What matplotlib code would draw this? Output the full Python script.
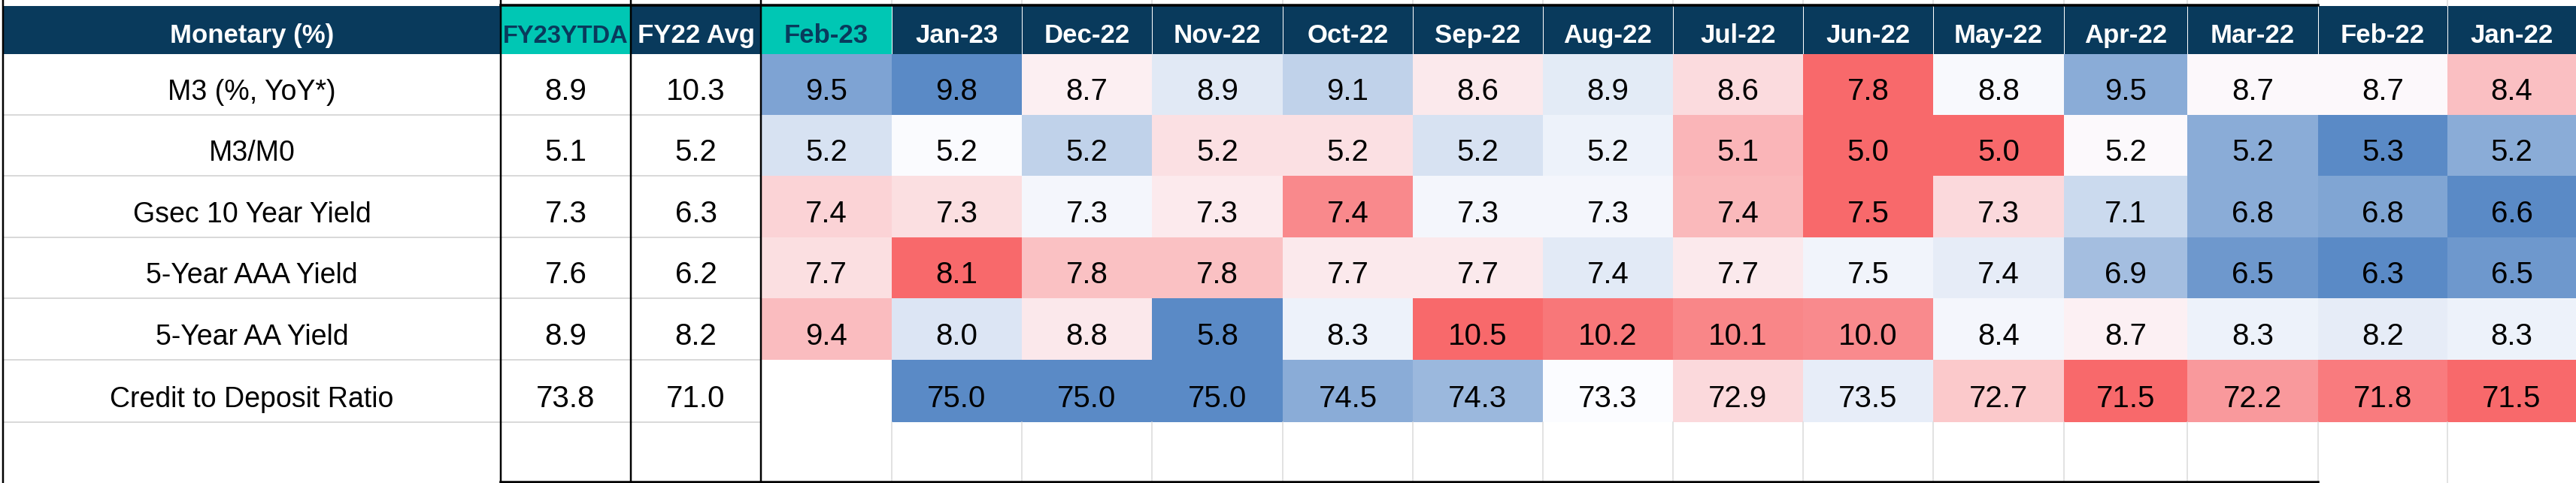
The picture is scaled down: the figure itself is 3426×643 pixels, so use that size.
import numpy as np
import matplotlib.pyplot as plt
from matplotlib.colors import LinearSegmentedColormap, Normalize

title = "Monetary (%)"
summary_heads = ["FY23YTDA", "FY22 Avg"]
months = ["Feb-23", "Jan-23", "Dec-22", "Nov-22", "Oct-22", "Sep-22", "Aug-22",
          "Jul-22", "Jun-22", "May-22", "Apr-22", "Mar-22", "Feb-22", "Jan-22"]
indicators = ["M3 (%, YoY*)", "M3/M0", "Gsec 10 Year Yield", "5-Year AAA Yield",
              "5-Year AA Yield", "Credit to Deposit Ratio"]
fy23_ytda = [8.9, 5.1, 7.3, 7.6, 8.9, 73.8]
fy22_avg = [10.3, 5.2, 6.3, 6.2, 8.2, 71.0]

m3_yoy = [9.5, 9.8, 8.7, 8.9, 9.1, 8.6, 8.9, 8.6, 7.8, 8.8, 9.5, 8.7, 8.7, 8.4]
m3_m0 = [5.2, 5.2, 5.2, 5.2, 5.2, 5.2, 5.2, 5.1, 5.0, 5.0, 5.2, 5.2, 5.3, 5.2]
gsec_10y = [7.4, 7.3, 7.3, 7.3, 7.4, 7.3, 7.3, 7.4, 7.5, 7.3, 7.1, 6.8, 6.8, 6.6]
aaa_5y = [7.7, 8.1, 7.8, 7.8, 7.7, 7.7, 7.4, 7.7, 7.5, 7.4, 6.9, 6.5, 6.3, 6.5]
aa_5y = [9.4, 8.0, 8.8, 5.8, 8.3, 10.5, 10.2, 10.1, 10.0, 8.4, 8.7, 8.3, 8.2, 8.3]
cd_ratio = [np.nan, 75.0, 75.0, 75.0, 74.5, 74.3, 73.3, 72.9, 73.5, 72.7, 71.5, 72.2, 71.8, 71.5]

# colour-scale position of each cell (-1 red ... 0 white ... +1 blue), read from the shading
m3_yoy_shade = [0.78, 1.0, -0.09, 0.17, 0.37, -0.13, 0.15, -0.22, -1.0, 0.03, 0.70, -0.03, -0.03, -0.41]
m3_m0_shade = [0.23, 0.01, 0.37, -0.19, -0.19, 0.23, 0.09, -0.48, -1.0, -1.0, -0.02, 0.70, 1.0, 0.70]
gsec_10y_shade = [-0.28, -0.20, 0.05, -0.12, -0.78, 0.05, 0.05, -0.46, -1.0, -0.24, 0.30, 0.70, 0.76, 1.0]
aaa_5y_shade = [-0.20, -1.0, -0.40, -0.40, -0.13, -0.13, 0.16, -0.13, 0.07, 0.14, 0.54, 0.87, 1.0, 0.87]
aa_5y_shade = [-0.43, 0.20, -0.14, 1.0, 0.09, -1.0, -0.90, -0.80, -0.77, 0.05, -0.08, 0.09, 0.14, 0.09]
cd_ratio_shade = [np.nan, 1.0, 1.0, 1.0, 0.70, 0.60, 0.0, -0.24, 0.13, -0.35, -1.0, -0.67, -0.87, -1.0]

values = np.array([m3_yoy, m3_m0, gsec_10y, aaa_5y, aa_5y, cd_ratio])
shades = np.array([m3_yoy_shade, m3_m0_shade, gsec_10y_shade, aaa_5y_shade,
                   aa_5y_shade, cd_ratio_shade])

# --- layout (pixels) ---
W, H = 3426, 643
col_edges = [4, 666, 839, 1012, 1186, 1359, 1532, 1706, 1879, 2052, 2225,
             2398, 2571, 2745, 2909, 3083, 3255, 3426]
row_edges = [8, 72, 153, 234, 316, 397, 479, 562, 643]

navy = "#093A5C"
teal = "#00C7B4"
grid = "#D9D9D9"
fam = ["Liberation Sans", "DejaVu Sans"]
px = 72 / 100  # points per pixel

fig = plt.figure(figsize=(W / 100, H / 100), dpi=100)
ax = fig.add_axes([0, 0, 1, 1])
ax.set_xlim(0, W)
ax.set_ylim(H, 0)
ax.axis("off")

# heat map of the monthly columns
cmap = LinearSegmentedColormap.from_list("rwb", ["#F8696B", "#FCFCFF", "#5A8AC6"])
cmap.set_bad("white")
ax.pcolormesh(col_edges[3:], row_edges[1:8], np.ma.masked_invalid(shades),
              cmap=cmap, norm=Normalize(-1, 1), zorder=1)

# header cells
heads = [title] + summary_heads + months
for j, h in enumerate(heads):
    x0, x1 = col_edges[j], col_edges[j + 1]
    is_teal = h in ("FY23YTDA", "Feb-23")
    ax.fill_between([x0 + 1, x1], row_edges[0], row_edges[1],
                    color=teal if is_teal else navy, lw=0, zorder=2)
    ax.text((x0 + x1) / 2, row_edges[1] - 15, h, ha="center", va="baseline",
            fontsize=23.5 if h == "FY23YTDA" else 25, fontweight="bold", family=fam,
            color=navy if is_teal else "white", zorder=4)

# gridlines
for y in row_edges[2:8]:
    ax.plot([col_edges[0], col_edges[3]], [y, y], color=grid, lw=2 * px, zorder=2)
for x in col_edges[4:-1]:
    ax.plot([x, x], [row_edges[7], H], color=grid, lw=1.5 * px, zorder=2)
    ax.plot([x, x], [0, row_edges[0]], color=grid, lw=1.5 * px, zorder=2)

# black borders
for x in col_edges[:4]:
    ax.plot([x, x], [0, H], color="black", lw=2.5 * px, zorder=5)
ax.plot([col_edges[1], col_edges[15]], [7, 7], color="black", lw=3.5 * px, zorder=5)
ax.plot([col_edges[1], col_edges[15]], [H - 1.5, H - 1.5], color="black", lw=3.5 * px, zorder=5)

# body text
for i, name in enumerate(indicators):
    yb = row_edges[i + 2] - 20
    ax.text((col_edges[0] + col_edges[1]) / 2, yb, name, ha="center", va="baseline",
            fontsize=27, family=fam, color="black", zorder=4)
    for j, v in enumerate([fy23_ytda[i], fy22_avg[i]] + list(values[i])):
        if np.isnan(v):
            continue
        xc = (col_edges[j + 1] + col_edges[j + 2]) / 2
        ax.text(xc, yb, f"{v:.1f}", ha="center", va="baseline",
                fontsize=29, family=fam, color="black", zorder=4)

fig.savefig("out.png", dpi=100, facecolor="white")
